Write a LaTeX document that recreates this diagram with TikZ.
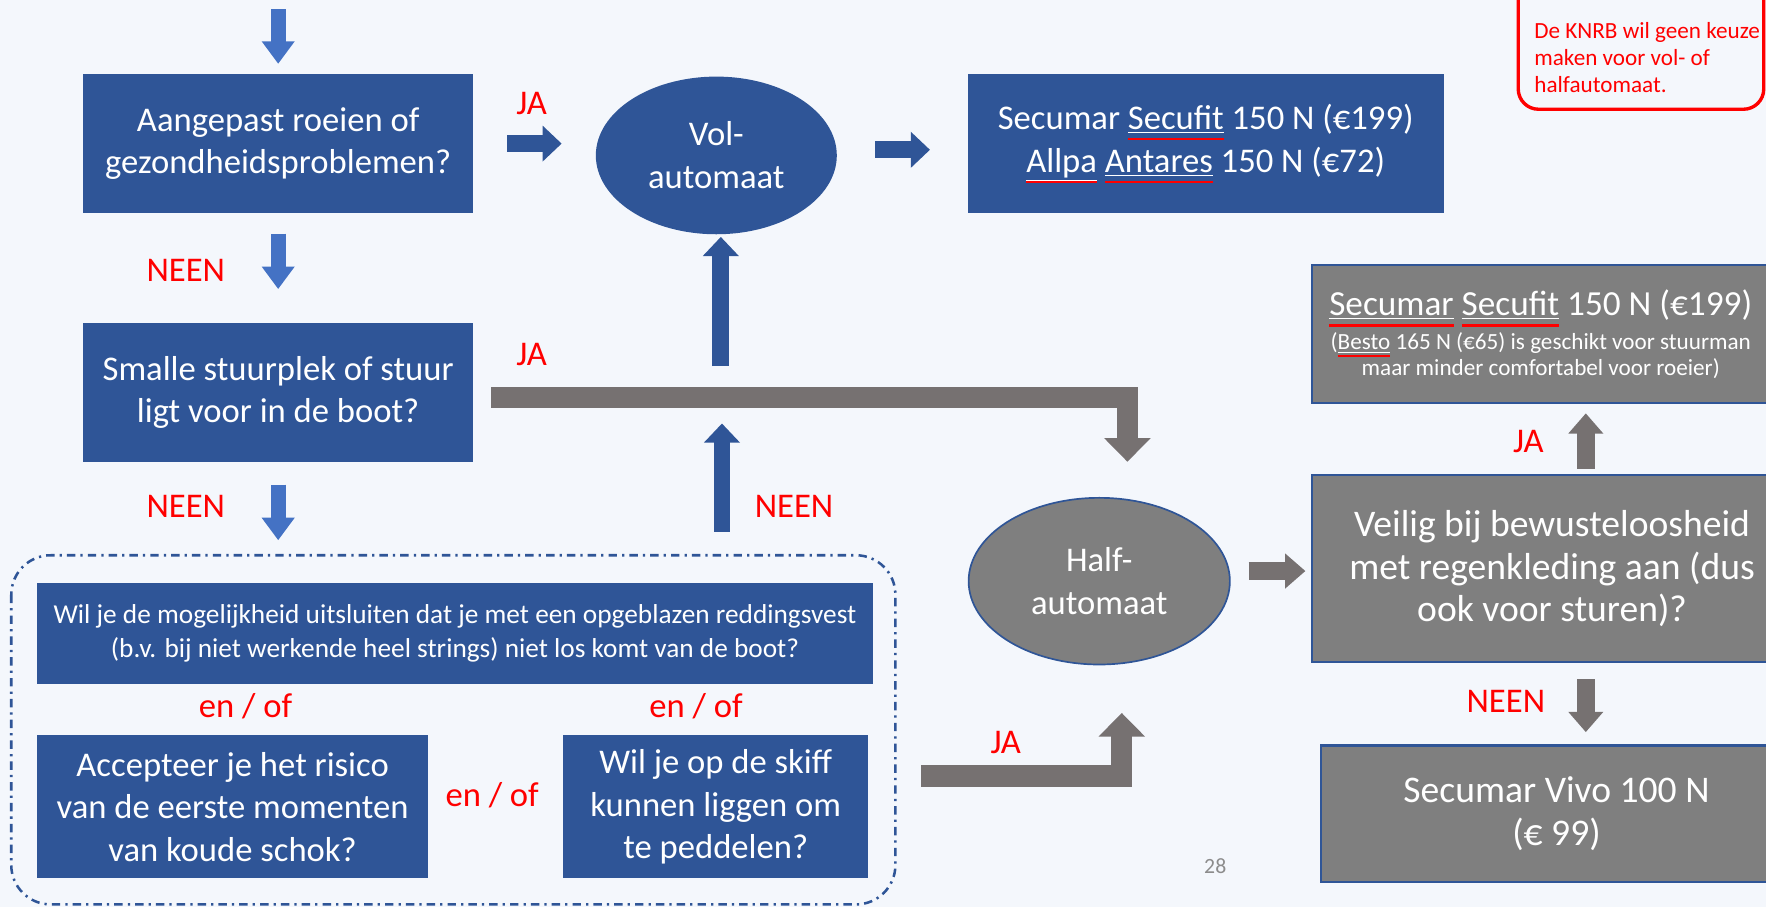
\documentclass[tikz,border=0pt]{standalone}
\usepackage{fontspec}
\setmainfont{Carlito}
\usetikzlibrary{arrows.meta,shapes.geometric}

\definecolor{slide}{HTML}{F4F7FC}
\definecolor{boxblue}{HTML}{2F5597}
\definecolor{arrowblue}{HTML}{4472C4}
\definecolor{boxgray}{HTML}{7F7F7F}
\definecolor{arrowgray}{HTML}{767171}
\definecolor{nored}{HTML}{FF0000}
\definecolor{pagegray}{HTML}{8C8C8C}

% spelling mark under a word
\newcommand{\spell}[1]{\setbox0\hbox{#1}\rlap{\textcolor{nored}{\raisebox{-0.32em}{\rule{\wd0}{0.06em}}}}\underline{#1}}

\begin{document}
\begin{tikzpicture}[x=0.02cm, y=-0.02cm,
	bluebox/.style={fill=boxblue, text=white, align=center, inner sep=0pt, font=\fontsize{17.5}{21.6}\selectfont},
	graybox/.style={fill=boxgray, draw=boxblue, line width=0.04cm, text=white, align=center, inner sep=0pt, font=\fontsize{19}{21.6}\selectfont},
	answer/.style={text=nored, inner sep=0pt, font=\fontsize{17.5}{21.6}\selectfont},
	lightarrow/.style={draw=arrowblue, line width=0.26cm, -{Triangle[width=0.56cm,length=0.4cm]}},
	darkarrow/.style={draw=boxblue, line width=0.3cm, -{Triangle[width=0.62cm,length=0.34cm]}},
	grayarrow/.style={draw=arrowgray, line width=0.32cm, -{Triangle[width=0.6cm,length=0.36cm]}},
	bentarrow/.style={draw=arrowgray, line width=0.38cm, line join=miter, -{Triangle[width=0.8cm,length=0.42cm]}}
	]

	\fill[slide] (0,0) rectangle (1568,805);
	\useasboundingbox (0,0) rectangle (1568,805);
	\clip (0,0) rectangle (1568,805);

	% left column
	\node[bluebox, minimum width=6.92cm, minimum height=2.46cm] (aangepast) at (247,127.5) {Aangepast roeien of\\gezondheidsproblemen?};
	\node[bluebox, minimum width=6.92cm, minimum height=2.46cm] (smalle) at (247,348.5) {Smalle stuurplek of stuur\\ligt voor in de boot?};

	\draw[boxblue, line width=0.045cm, dash pattern=on 0.15cm off 0.09cm on 0.04cm off 0.09cm, rounded corners=0.7cm] (10,493) rectangle (795,803);

	\node[bluebox, minimum width=14.84cm, minimum height=1.78cm, font=\fontsize{13.8}{17}\selectfont] (wilje) at (404,562.5) {Wil je de mogelijkheid uitsluiten dat je met een opgeblazen reddingsvest\\(b.v. bij niet werkende heel strings) niet los komt van de boot?};
	\node[bluebox, minimum width=6.94cm, minimum height=2.54cm] (koude) at (206.5,716.5) {Accepteer je het risico\\van de eerste momenten\\van koude schok?};
	\node[bluebox, minimum width=5.42cm, minimum height=2.54cm] (skiff) at (635.5,716.5) {Wil je op de skiff\\kunnen liggen om\\te peddelen?};

	% middle
	\node[bluebox, ellipse, minimum width=4.28cm, minimum height=2.8cm] (vol) at (636,138) {Vol-\\automaat};
	\node[graybox, ellipse, minimum width=4.64cm, minimum height=2.96cm, line width=0.03cm, font=\fontsize{17.5}{21.6}\selectfont] (half) at (976,516) {Half-\\automaat};

	% right column
	\node[bluebox, minimum width=8.46cm, minimum height=2.46cm] (secufitA) at (1070.5,127.5) {Secumar \spell{Secufit} 150 N (€199)\\\spell{Allpa} \spell{Antares} 150 N (€72)};
	\node[graybox, minimum width=8.12cm, minimum height=2.46cm, font=\fontsize{11.7}{13}\selectfont] (secufitB) at (1368,296.5) {{\fontsize{17.8}{21.6}\selectfont\spell{Secumar} \spell{Secufit} 150 N (€199)}\\[2pt](\spell{Besto} 165 N (€65) is geschikt voor stuurman\\maar minder comfortabel voor roeier)};
	\node[graybox, minimum width=8.52cm, minimum height=3.32cm] (veilig) at (1378,505) {Veilig bij bewusteloosheid\\met regenkleding aan (dus\\ook voor sturen)?};
	\node[graybox, minimum width=8.36cm, minimum height=2.42cm] (vivo) at (1382,722.5) {Secumar Vivo 100 N\\(€ 99)};

	\draw[nored, line width=0.06cm, rounded corners=0.36cm] (1348,-40) rectangle (1566,97);
	\node[anchor=north west, align=left, inner sep=0pt, text=nored, font=\fontsize{11.7}{13.6}\selectfont] (note) at (1362,20) {De KNRB wil geen keuze\\maken voor vol- of\\halfautomaat.};

	% labels
	\node[answer] (ja1) at (472,92) {JA};
	\node[answer] (neen1) at (165,240) {NEEN};
	\node[answer] (ja2) at (472,315) {JA};
	\node[answer] (neen2) at (165,450) {NEEN};
	\node[answer] (neen3) at (705,450) {NEEN};
	\node[answer] (enof1) at (218,627) {en / of};
	\node[answer] (enof2) at (618,627) {en / of};
	\node[answer] (enof3) at (437,706) {en / of};
	\node[answer] (ja3) at (893,659) {JA};
	\node[answer] (ja4) at (1357,392) {JA};
	\node[answer] (neen4) at (1337,623) {NEEN};
	\node[text=pagegray, font=\fontsize{11}{13}\selectfont] (page) at (1079,769) {28};

	% block arrows
	\coordinate (start) at (247,8);
	\coordinate (up1) at (641,472);
	\coordinate (up1e) at (641,376);
	\coordinate (up2) at (640,325);
	\coordinate (bend1) at (436,353);
	\coordinate (bend1e) at (1001,410);
	\coordinate (bend2) at (818,689);
	\coordinate (bend2e) at (996,633);

	\draw[lightarrow] (start) -- ([yshift=0.18cm]aangepast.north);
	\draw[lightarrow, shorten <=0.36cm, shorten >=0.6cm] (aangepast.south) -- (smalle.north);
	\draw[lightarrow, shorten <=0.4cm, shorten >=0.76cm] (smalle.south) -- (smalle.south |- wilje.north);
	\draw[darkarrow, shorten <=0.6cm, shorten >=0.6cm] (aangepast.east) -- (aangepast.east -| vol.west);
	\draw[darkarrow, shorten <=0.68cm, shorten >=0.66cm] ([yshift=0.1cm]vol.east) -- ([yshift=0.1cm]vol.east -| secufitA.west);
	\draw[darkarrow] (up1) -- (up1e);
	\draw[darkarrow, shorten >=0.04cm] (up2) -- (up2 |- vol.south);
	\draw[bentarrow] (bend1) -| (bend1e);
	\draw[bentarrow] (bend2) -| (bend2e);
	\draw[grayarrow, shorten <=0.32cm, shorten >=0.1cm] ([yshift=0.18cm]half.east) -- ([yshift=0.18cm]half.east -| veilig.west);
	\draw[grayarrow, shorten <=0.1cm, shorten >=0.16cm] ([xshift=0.6cm]veilig.north) -- ([xshift=0.6cm]veilig.north |- secufitB.south);
	\draw[grayarrow, shorten <=0.28cm, shorten >=0.22cm] ([xshift=0.52cm]vivo.north |- veilig.south) -- ([xshift=0.52cm]vivo.north);

\end{tikzpicture}
\end{document}
